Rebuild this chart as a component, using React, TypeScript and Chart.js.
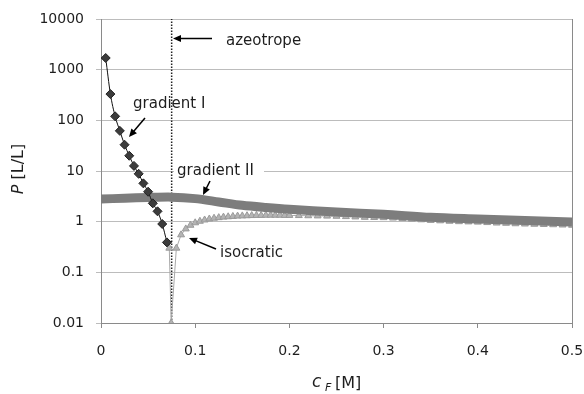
import React, { useEffect, useRef } from "react";
import { Chart, registerables } from "chart.js";

Chart.register(...registerables);

// ---- data ----
const gradIx = [0.005, 0.01, 0.015, 0.02, 0.025, 0.03, 0.035, 0.04, 0.045, 0.05, 0.055, 0.06, 0.065, 0.07];
const gradIy = [1700, 330, 120, 62, 33, 20, 12.6, 8.8, 5.7, 3.9, 2.3, 1.6, 0.9, 0.39];

const gradIIx = [0, 0.025, 0.05, 0.075, 0.1, 0.125, 0.15, 0.175, 0.2, 0.25, 0.3, 0.35, 0.4, 0.45, 0.5];
const gradIIy = [2.8, 2.9, 3.0, 3.05, 2.85, 2.45, 2.1, 1.9, 1.75, 1.55, 1.4, 1.22, 1.13, 1.05, 0.98];

const isoX = [0.0725, 0.0745, 0.08, 0.085, 0.09, 0.095, 0.1, 0.105, 0.11, 0.115, 0.12, 0.125, 0.13, 0.135, 0.14, 0.145, 0.15, 0.155, 0.16, 0.165, 0.17, 0.175, 0.18, 0.185, 0.19, 0.195, 0.2,
  0.21, 0.22, 0.23, 0.24, 0.25, 0.26, 0.27, 0.28, 0.29, 0.3, 0.31, 0.32, 0.33, 0.34, 0.35, 0.36, 0.37, 0.38, 0.39, 0.4, 0.41, 0.42, 0.43, 0.44, 0.45, 0.46, 0.47, 0.48, 0.49, 0.5];
const isoY = [0.3, 0.01, 0.3, 0.55, 0.72, 0.85, 0.95, 1.02, 1.08, 1.13, 1.17, 1.2, 1.23, 1.25, 1.27, 1.29, 1.3, 1.31, 1.32, 1.33, 1.33, 1.34, 1.34, 1.34, 1.34, 1.33, 1.33,
  1.32, 1.31, 1.3, 1.29, 1.28, 1.26, 1.24, 1.22, 1.21, 1.2, 1.18, 1.15, 1.12, 1.09, 1.06, 1.04, 1.02, 1.0, 0.99, 0.98, 0.96, 0.94, 0.93, 0.91, 0.9, 0.89, 0.88, 0.87, 0.86, 0.85];

const azeotropeX = 0.075;
const yTickValues = [0.01, 0.1, 1, 10, 100, 1000, 10000];
const yTickLabels = ["0.01", "0.1", "1", "10", "100", "1000", "10000"];
const xTickLabels = ["0", "0.1", "0.2", "0.3", "0.4", "0.5"];

const FONT = "'DejaVu Sans', sans-serif";
const TEXT = "#1e1e1e";

function arrow(ctx: CanvasRenderingContext2D, x1: number, y1: number, x2: number, y2: number) {
  const ang = Math.atan2(y2 - y1, x2 - x1);
  const len = 8, w = 3.6;
  ctx.save();
  ctx.strokeStyle = "#000";
  ctx.fillStyle = "#000";
  ctx.lineWidth = 1.5;
  ctx.beginPath();
  ctx.moveTo(x1, y1);
  ctx.lineTo(x2 - Math.cos(ang) * len * 0.8, y2 - Math.sin(ang) * len * 0.8);
  ctx.stroke();
  ctx.beginPath();
  ctx.moveTo(x2, y2);
  ctx.lineTo(x2 - Math.cos(ang) * len + Math.sin(ang) * w, y2 - Math.sin(ang) * len - Math.cos(ang) * w);
  ctx.lineTo(x2 - Math.cos(ang) * len - Math.sin(ang) * w, y2 - Math.sin(ang) * len + Math.cos(ang) * w);
  ctx.closePath();
  ctx.fill();
  ctx.restore();
}

const decorPlugin = {
  id: "decor",
  beforeDatasetsDraw(chart: any) {
    const ctx = chart.ctx as CanvasRenderingContext2D;
    // white box behind "gradient II" label
    ctx.save();
    ctx.fillStyle = "#fff";
    ctx.fillRect(174, 164, 90, 14);
    ctx.restore();
  },
  afterDraw(chart: any) {
    const ctx = chart.ctx as CanvasRenderingContext2D;
    const { right, top, bottom } = chart.chartArea;
    ctx.save();
    // right border
    ctx.strokeStyle = "#8a8a8a";
    ctx.lineWidth = 1;
    ctx.beginPath();
    ctx.moveTo(Math.round(right) + 0.5, top);
    ctx.lineTo(Math.round(right) + 0.5, bottom);
    ctx.stroke();

    // annotations
    ctx.fillStyle = TEXT;
    ctx.font = `15px ${FONT}`;
    ctx.textBaseline = "alphabetic";
    ctx.textAlign = "left";
    ctx.fillText("azeotrope", 226, 45);
    ctx.fillText("gradient I", 133, 108);
    ctx.fillText("gradient II", 177, 175);
    ctx.fillText("isocratic", 220, 257);
    arrow(ctx, 212, 38.5, 173, 38.5);
    arrow(ctx, 145, 118, 129, 137);
    arrow(ctx, 210, 181, 203, 195);
    arrow(ctx, 216, 249, 189, 238);

    // y-axis title
    ctx.save();
    ctx.translate(23, 169);
    ctx.rotate(-Math.PI / 2);
    ctx.font = `italic 16px ${FONT}`;
    const pW = ctx.measureText("P").width;
    ctx.font = `16px ${FONT}`;
    const rW = ctx.measureText(" [L/L]").width;
    const start = -(pW + rW) / 2;
    ctx.font = `italic 16px ${FONT}`;
    ctx.fillText("P", start, 0);
    ctx.font = `16px ${FONT}`;
    ctx.fillText(" [L/L]", start + pW, 0);
    ctx.restore();

    // x-axis title
    ctx.font = `italic 17px ${FONT}`;
    ctx.fillText("c", 312, 387);
    ctx.font = `italic 11px ${FONT}`;
    ctx.fillText("F", 325, 391);
    ctx.font = `16px ${FONT}`;
    ctx.fillText("[M]", 335, 388);
    ctx.restore();
  },
};

export default function App() {
  const ref = useRef<HTMLCanvasElement | null>(null);
  useEffect(() => {
    if (!ref.current) return;
    const chart = new Chart(ref.current, {
      type: "line",
      data: {
        datasets: [
          {
            label: "gradient I",
            data: gradIx.map((x, i) => ({ x, y: gradIy[i] })),
            borderColor: "#111",
            borderWidth: 1,
            backgroundColor: "#3c3c3c",
            pointStyle: "rectRot",
            pointRadius: 4.5,
            pointBorderColor: "#222",
            pointBorderWidth: 1,
            pointBackgroundColor: "#3c3c3c",
            cubicInterpolationMode: "monotone",
          },
          {
            label: "gradient II",
            data: gradIIx.map((x, i) => ({ x, y: gradIIy[i] })),
            borderColor: "#7d7d7d",
            borderWidth: 9,
            borderCapStyle: "butt",
            pointRadius: 0,
            tension: 0.3,
          },
          {
            label: "isocratic",
            data: isoX.map((x, i) => ({ x, y: isoY[i] })),
            borderColor: "#a8a8a8",
            borderWidth: 1,
            pointStyle: "triangle",
            pointRadius: 4,
            pointBackgroundColor: "#b4b4b4",
            pointBorderColor: "#999",
            pointBorderWidth: 1,
            tension: 0,
          },
          {
            label: "azeotrope",
            data: [{ x: azeotropeX, y: 0.01 }, { x: azeotropeX, y: 10000 }],
            borderColor: "#222",
            borderWidth: 1.5,
            borderDash: [1.5, 1.5],
            pointRadius: 0,
          },
        ],
      },
      options: {
        animation: false,
        responsive: false,
        devicePixelRatio: 1,
        layout: { padding: { top: 19, right: 12, left: 0, bottom: 0 } },
        plugins: { legend: { display: false }, tooltip: { enabled: false } },
        scales: {
          x: {
            type: "linear",
            min: 0,
            max: 0.5,
            afterBuildTicks: (axis: any) => {
              axis.ticks = xTickLabels.map((l) => ({ value: parseFloat(l) }));
            },
            afterFit: (scale: any) => {
              scale.height = 71;
              scale.paddingLeft = 0;
              scale.paddingRight = 0;
            },
            ticks: {
              callback: (v: any, i: number) => xTickLabels[i],
              color: TEXT,
              font: { family: FONT, size: 14 },
              padding: 15,
              maxRotation: 0,
            },
            grid: { drawOnChartArea: false, drawTicks: true, tickLength: 5, color: "#8a8a8a" },
            border: { display: true, color: "#8a8a8a" },
          },
          y: {
            type: "logarithmic",
            min: 0.01,
            max: 10000,
            afterBuildTicks: (axis: any) => {
              axis.ticks = yTickValues.map((v) => ({ value: v }));
            },
            afterFit: (scale: any) => {
              scale.width = 101;
              scale.paddingTop = 0;
              scale.paddingBottom = 0;
            },
            ticks: {
              callback: (v: any, i: number) => yTickLabels[i],
              color: TEXT,
              font: { family: FONT, size: 14 },
              padding: 12,
            },
            grid: { color: "#bcbcbc", drawTicks: true, tickLength: 5 },
            border: { display: true, color: "#8a8a8a" },
          },
        },
      },
      plugins: [decorPlugin],
    } as any);
    return () => chart.destroy();
  }, []);
  return (
    <div style={{ position: "fixed", left: 0, top: 0, width: 584, height: 394, background: "#fff" }}>
      <canvas ref={ref} width={584} height={394} />
    </div>
  );
}
